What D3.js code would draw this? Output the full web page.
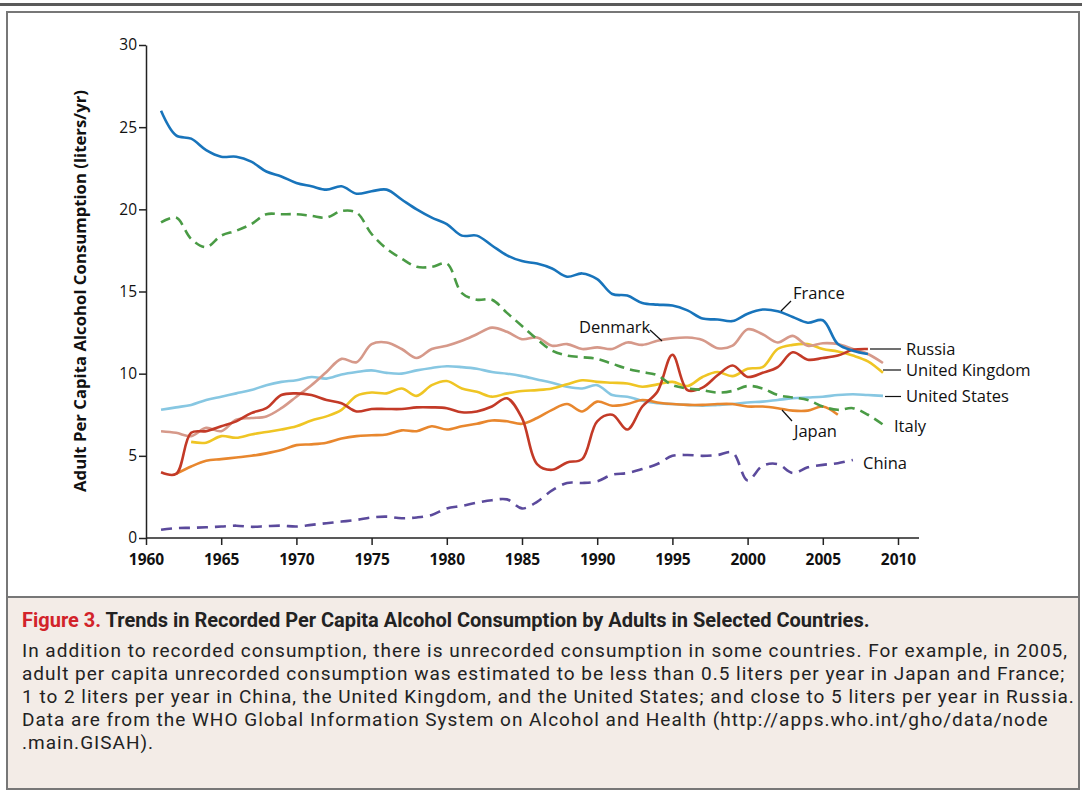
<!DOCTYPE html>
<html>
<head>
<meta charset="utf-8">
<script src="https://cdn.jsdelivr.net/npm/d3@7"></script>
<style>
  body { margin: 0; background: #fff; }
  text { font-family: "Open Sans", Lato, sans-serif; }
  .caption text { font-family: Roboto, "Open Sans", sans-serif; }
</style>
</head>
<body>
<div id="chart"></div>
<script>
// per capita consumption, liters/yr
let franceYears = d3.range(1961, 2009);
let france = [26.0, 24.5, 24.3, 23.6, 23.2, 23.2, 22.9, 22.3, 22.0, 21.6,
  21.4, 21.2, 21.4, 20.95, 21.1, 21.2, 20.6, 20.0, 19.5, 19.1,
  18.4, 18.4, 17.8, 17.2, 16.85, 16.7, 16.4, 15.9, 16.1, 15.75,
  14.85, 14.75, 14.3, 14.2, 14.15, 13.85, 13.35, 13.3, 13.2, 13.65,
  13.9, 13.8, 13.45, 13.1, 13.25, 11.8, 11.4, 11.2];

let italyYears = d3.range(1961, 2010);
let italy = [19.2, 19.5, 18.2, 17.7, 18.4, 18.7, 19.1, 19.7, 19.7, 19.7,
  19.6, 19.5, 19.9, 19.8, 18.5, 17.6, 17.0, 16.5, 16.5, 16.7,
  14.9, 14.5, 14.5, 13.7, 12.9, 12.1, 11.4, 11.1, 11.0, 10.9,
  10.6, 10.3, 10.1, 9.9, 9.3, 9.1, 9.0, 8.85, 8.95, 9.25,
  9.1, 8.7, 8.55, 8.4, 8.0, 7.8, 7.9, 7.5, 6.9];

let denmarkYears = d3.range(1961, 2010);
let denmark = [6.5, 6.4, 6.2, 6.7, 6.5, 7.2, 7.3, 7.4, 7.9, 8.6,
  9.3, 10.1, 10.9, 10.7, 11.8, 11.9, 11.5, 10.95, 11.5, 11.7,
  12.0, 12.4, 12.8, 12.55, 12.1, 12.2, 11.7, 11.8, 11.5, 11.6,
  11.5, 11.9, 11.75, 12.0, 12.15, 12.2, 12.05, 11.55, 11.7, 12.7,
  12.4, 11.9, 12.3, 11.7, 11.85, 11.8, 11.5, 11.2, 10.65];

let russiaYears = d3.range(1961, 2009);
let russia = [4.0, 3.9, 6.4, 6.5, 6.8, 7.1, 7.6, 7.9, 8.7, 8.8,
  8.7, 8.4, 8.2, 7.7, 7.85, 7.85, 7.85, 7.95, 7.95, 7.9,
  7.65, 7.7, 8.0, 8.5, 7.3, 4.5, 4.15, 4.6, 4.8, 7.1,
  7.5, 6.6, 8.0, 8.9, 11.15, 9.0, 9.15, 9.9, 10.5, 9.8,
  10.05, 10.4, 11.3, 10.85, 10.95, 11.1, 11.45, 11.5];

let ukYears = d3.range(1963, 2010);
let uk = [5.85, 5.8, 6.2, 6.1, 6.3, 6.45, 6.6, 6.8,
  7.15, 7.4, 7.8, 8.65, 8.85, 8.8, 9.1, 8.65, 9.3, 9.55,
  9.1, 8.9, 8.6, 8.8, 8.95, 9.0, 9.1, 9.35, 9.6, 9.5,
  9.45, 9.4, 9.2, 9.35, 9.5, 9.25, 9.8, 10.1, 9.85, 10.3,
  10.4, 11.5, 11.75, 11.8, 11.5, 11.35, 11.1, 10.75, 10.05];

let usYears = d3.range(1961, 2010);
let us = [7.8, 7.95, 8.1, 8.4, 8.6, 8.8, 9.0, 9.3, 9.5, 9.6,
  9.8, 9.7, 9.95, 10.1, 10.2, 10.05, 10.0, 10.2, 10.35, 10.45,
  10.4, 10.3, 10.1, 10.0, 9.85, 9.65, 9.45, 9.2, 9.1, 9.3,
  8.7, 8.6, 8.35, 8.2, 8.15, 8.1, 8.05, 8.1, 8.15, 8.25,
  8.3, 8.4, 8.5, 8.55, 8.6, 8.7, 8.75, 8.7, 8.65];

let japanYears = d3.range(1962, 2007);
let japan = [3.9, 4.35, 4.7, 4.8, 4.9, 5.0, 5.15, 5.35, 5.65,
  5.7, 5.8, 6.05, 6.2, 6.25, 6.3, 6.55, 6.5, 6.8, 6.6,
  6.8, 6.95, 7.15, 7.1, 6.95, 7.3, 7.8, 8.15, 7.7, 8.3,
  8.05, 8.15, 8.4, 8.25, 8.15, 8.1, 8.1, 8.15, 8.15, 8.0,
  8.0, 7.9, 7.75, 7.75, 8.0, 7.5];

let chinaYears = d3.range(1961, 2008);
let china = [0.5, 0.6, 0.62, 0.65, 0.7, 0.75, 0.68, 0.72, 0.75, 0.7,
  0.8, 0.9, 1.0, 1.1, 1.25, 1.3, 1.2, 1.25, 1.4, 1.8,
  1.95, 2.15, 2.3, 2.35, 1.8, 2.2, 2.9, 3.35, 3.35, 3.45,
  3.85, 3.95, 4.2, 4.5, 5.0, 5.05, 5.0, 5.05, 5.2, 3.5,
  4.4, 4.5, 3.95, 4.3, 4.45, 4.55, 4.75];

let xTicks = [1960, 1965, 1970, 1975, 1980, 1985, 1990, 1995, 2000, 2005, 2010];
let yTicks = [0, 5, 10, 15, 20, 25, 30];

let series = [
  {name: "United States", years: usYears, values: us, color: "#87c7e2", dash: null},
  {name: "Japan", years: japanYears, values: japan, color: "#e8872e", dash: null},
  {name: "United Kingdom", years: ukYears, values: uk, color: "#efc524", dash: null},
  {name: "Denmark", years: denmarkYears, values: denmark, color: "#d6998a", dash: null},
  {name: "Russia", years: russiaYears, values: russia, color: "#c33a27", dash: null},
  {name: "Italy", years: italyYears, values: italy, color: "#4a9b45", dash: "10,6"},
  {name: "China", years: chinaYears, values: china, color: "#5b4a9c", dash: "11,7"},
  {name: "France", years: franceYears, values: france, color: "#1874bb", dash: null}
];

let svgWidth = 1082;
let svgHeight = 792;

let svg = d3.select("#chart")
  .append("svg")
  .attr("width", svgWidth)
  .attr("height", svgHeight);

// shrink/grow a text so it spans the given width
function fitWidth(sel, target) {
  let node = sel.node();
  let size = parseFloat(sel.attr("font-size"));
  let w = node.getComputedTextLength();
  sel.attr("font-size", (size * target / w).toFixed(2) + "px");
  return size * target / w;
}

// frame
svg.append("line")
  .attr("x1", 0).attr("x2", svgWidth)
  .attr("y1", 4.5).attr("y2", 4.5)
  .attr("stroke", "#5a5a5a")
  .attr("stroke-width", 3);

svg.append("rect")
  .attr("x", 7).attr("y", 597)
  .attr("width", 1072).attr("height", 192)
  .attr("fill", "#f3ece7");

svg.append("rect")
  .attr("x", 7).attr("y", 12)
  .attr("width", 1072).attr("height", 777)
  .attr("fill", "none")
  .attr("stroke", "#777")
  .attr("stroke-width", 2);

svg.append("line")
  .attr("x1", 7).attr("x2", 1079)
  .attr("y1", 597).attr("y2", 597)
  .attr("stroke", "#777")
  .attr("stroke-width", 2);

let x = d3.scaleLinear().domain([1960, 2010]).range([146, 898]);
let y = d3.scaleLinear().domain([0, 30]).range([538, 45]);

let xAxis = svg.append("g")
  .attr("transform", "translate(0,538)")
  .call(d3.axisBottom(x).tickValues(xTicks).tickFormat(d3.format("d")).tickSize(7).tickSizeOuter(0));
xAxis.select(".domain").attr("d", "M146,0H919");
xAxis.selectAll("line, path").attr("stroke", "#222").attr("stroke-width", 1.5);
xAxis.selectAll("text")
  .attr("font-size", "15.5px")
  .attr("font-weight", "bold")
  .attr("fill", "#111")
  .attr("y", 12)
  .attr("dy", "0.95em");

let yAxis = svg.append("g")
  .attr("transform", "translate(146,0)")
  .call(d3.axisLeft(y).tickValues(yTicks).tickSize(7).tickSizeOuter(0));
yAxis.selectAll("line, path").attr("stroke", "#222").attr("stroke-width", 1.5);
yAxis.selectAll("text")
  .attr("font-size", "15.5px")
  .attr("fill", "#111")
  .attr("x", -9);

// Y axis title
let yTitle = svg.append("text")
  .attr("transform", "translate(86,291) rotate(-90)")
  .attr("text-anchor", "middle")
  .attr("font-size", "15px")
  .attr("font-weight", "bold")
  .attr("fill", "#111")
  .text("Adult Per Capita Alcohol Consumption (liters/yr)");
fitWidth(yTitle, 402);

let line = d3.line()
  .x(d => x(d[0]))
  .y(d => y(d[1]))
  .curve(d3.curveCatmullRom.alpha(0.5));

svg.append("g").selectAll("path")
  .data(series)
  .join("path")
  .attr("d", s => line(s.years.map((yr, i) => [yr, s.values[i]])))
  .attr("fill", "none")
  .attr("stroke", s => s.color)
  .attr("stroke-width", 2.6)
  .attr("stroke-dasharray", s => s.dash)
  .attr("stroke-linejoin", "round");

// labels with leader lines
let labels = [
  {text: "France", x: 793, y: 293, lx1: 781, ly1: 311, lx2: 791, ly2: 301},
  {text: "Denmark", x: 579, y: 327, lx1: 650, ly1: 330, lx2: 662, ly2: 341},
  {text: "Russia", x: 906, y: 349, lx1: 870, ly1: 349, lx2: 901, ly2: 349},
  {text: "United Kingdom", x: 906, y: 370, lx1: 883, ly1: 370, lx2: 901, ly2: 370},
  {text: "United States", x: 906, y: 396.5, lx1: 885, ly1: 396.5, lx2: 901, ly2: 396.5},
  {text: "Japan", x: 794, y: 431, lx1: 782, ly1: 410, lx2: 792, ly2: 421},
  {text: "Italy", x: 894, y: 426.5, lx1: null},
  {text: "China", x: 863, y: 463, lx1: null}
];

let labelGroup = svg.append("g");
labels.filter(d => d.lx1 !== null).forEach(function(d) {
  labelGroup.append("line")
    .attr("x1", d.lx1).attr("y1", d.ly1)
    .attr("x2", d.lx2).attr("y2", d.ly2)
    .attr("stroke", "#111")
    .attr("stroke-width", 1.2);
});
labelGroup.selectAll("text")
  .data(labels)
  .join("text")
  .attr("x", d => d.x)
  .attr("y", d => d.y)
  .attr("dy", "0.35em")
  .attr("font-size", "16.5px")
  .attr("fill", "#111")
  .text(d => d.text);

// caption
let captionGroup = svg.append("g").attr("class", "caption");

let caption = captionGroup.append("text")
  .attr("x", 22)
  .attr("y", 627)
  .attr("font-size", "17px")
  .attr("font-weight", "bold")
  .attr("fill", "#222");
caption.append("tspan").attr("fill", "#d2232a").text("Figure 3.");
caption.append("tspan").text(" Trends in Recorded Per Capita Alcohol Consumption by Adults in Selected Countries.");
fitWidth(caption, 848);

let bodyLines = [
  "In addition to recorded consumption, there is unrecorded consumption in some countries. For example, in 2005,",
  "adult per capita unrecorded consumption was estimated to be less than 0.5 liters per year in Japan and France;",
  "1 to 2 liters per year in China, the United Kingdom, and the United States; and close to 5 liters per year in Russia.",
  "Data are from the WHO Global Information System on Alcohol and Health (http://apps.who.int/gho/data/node",
  ".main.GISAH)."
];

let body = captionGroup.selectAll("text.body")
  .data(bodyLines)
  .join("text")
  .attr("class", "body")
  .attr("x", 22)
  .attr("y", (d, i) => 657 + i * 23)
  .attr("font-size", "19px")
  .attr("fill", "#222")
  .text(d => d);

// the original face is condensed: small tracking so the first line spans the box
let firstLine = body.nodes()[0];
let spacing = Math.max(0, (1046 - firstLine.getComputedTextLength()) / bodyLines[0].length);
body.attr("letter-spacing", spacing.toFixed(2) + "px");
</script>
</body>
</html>
